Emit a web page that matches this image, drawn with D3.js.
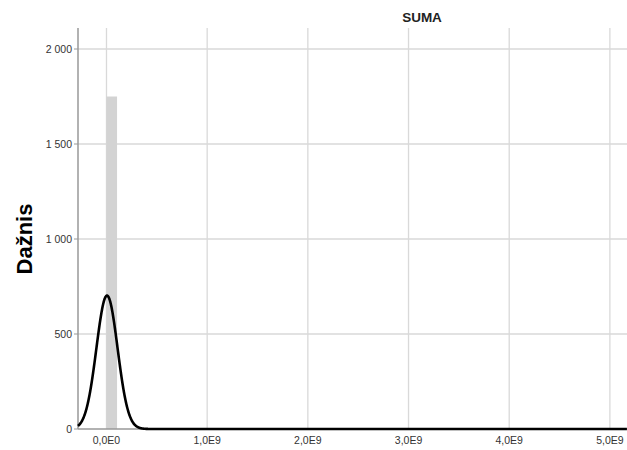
<!DOCTYPE html>
<html>
<head>
<meta charset="utf-8">
<script src="https://cdn.jsdelivr.net/npm/d3@7"></script>
<style>
  body { margin: 0; background: #fff; }
  text { font-family: "Liberation Sans", Arial, sans-serif; }
</style>
</head>
<body>
<svg id="chart" width="627" height="450"></svg>
<script>
// histogram bins (start, end) and counts
var binStarts = [0];
var binEnds = [1.05e8];
var binCounts = [1750];

// fitted normal curve parameters
var curveMean = 5e6;
var curveSd = 1.05e8;
var curveN = 1760;
var binWidth = 1.05e8;

var xTicks = [0, 1e9, 2e9, 3e9, 4e9, 5e9];
var xTickLabels = ["0,0E0", "1,0E9", "2,0E9", "3,0E9", "4,0E9", "5,0E9"];
var yTicks = [0, 500, 1000, 1500, 2000];
var yTickLabels = ["0", "500", "1 000", "1 500", "2 000"];

var svg = d3.select("#chart");

// plot box (avoid "top" which is a window property)
var plotL = 78, plotR = 627, plotT = 28, plotB = 429;

var x = d3.scaleLinear().domain([-0.283e9, 5.17e9]).range([plotL, plotR]);
var y = d3.scaleLinear().domain([0, 2000]).range([plotB, 49]);
// extend y to top of plot
y.domain([0, y.invert(plotT)]).range([plotB, plotT]);

// grid lines
svg.append("g").selectAll("line").data(yTicks.filter(function(d){ return d > 0; }))
  .enter().append("line")
    .attr("x1", plotL).attr("x2", plotR)
    .attr("y1", function(d){ return y(d); }).attr("y2", function(d){ return y(d); })
    .attr("stroke", "#d9d9d9").attr("stroke-width", 1.3);

svg.append("g").selectAll("line").data(xTicks)
  .enter().append("line")
    .attr("x1", function(d){ return x(d); }).attr("x2", function(d){ return x(d); })
    .attr("y1", plotT).attr("y2", plotB)
    .attr("stroke", "#d9d9d9").attr("stroke-width", 1.3);

// bars
svg.append("g").selectAll("rect").data(binCounts)
  .enter().append("rect")
    .attr("x", function(d, i){ return x(binStarts[i]); })
    .attr("width", function(d, i){ return x(binEnds[i]) - x(binStarts[i]); })
    .attr("y", function(d){ return y(d); })
    .attr("height", function(d){ return plotB - y(d); })
    .attr("fill", "#d3d3d3");

// axes lines
svg.append("line").attr("x1", plotL).attr("x2", plotR).attr("y1", plotB).attr("y2", plotB)
  .attr("stroke", "#999").attr("stroke-width", 1.5);
svg.append("line").attr("x1", plotL).attr("x2", plotL).attr("y1", plotT).attr("y2", plotB)
  .attr("stroke", "#999").attr("stroke-width", 1.5);

// y ticks
var yAxis = svg.append("g");
yAxis.selectAll("line").data(yTicks).enter().append("line")
  .attr("x1", plotL - 4).attr("x2", plotL)
  .attr("y1", function(d){ return y(d); }).attr("y2", function(d){ return y(d); })
  .attr("stroke", "#999").attr("stroke-width", 1);
yAxis.selectAll("text").data(yTicks).enter().append("text")
  .attr("x", plotL - 6)
  .attr("y", function(d){ return y(d); })
  .attr("dy", "0.35em")
  .attr("text-anchor", "end")
  .attr("font-size", 10.5)
  .attr("fill", "#333")
  .text(function(d, i){ return yTickLabels[i]; });

// x ticks
svg.append("g").selectAll("text").data(xTicks).enter().append("text")
  .attr("x", function(d){ return x(d); })
  .attr("y", plotB + 15)
  .attr("text-anchor", "middle")
  .attr("font-size", 10.5)
  .attr("fill", "#333")
  .text(function(d, i){ return xTickLabels[i]; });

// normal curve
var xs = d3.range(x.domain()[0], x.domain()[1], 2e6);
var norm = function(v){
  var z = (v - curveMean) / curveSd;
  return curveN * binWidth / (curveSd * Math.sqrt(2 * Math.PI)) * Math.exp(-0.5 * z * z);
};
var line = d3.line()
  .x(function(d){ return x(d); })
  .y(function(d){ return y(norm(d)); })
  .curve(d3.curveBasis);
svg.append("path").datum(xs)
  .attr("d", line)
  .attr("fill", "none")
  .attr("stroke", "#000")
  .attr("stroke-width", 2.6);

// title
svg.append("text")
  .attr("x", 422).attr("y", 22)
  .attr("text-anchor", "middle")
  .attr("font-size", 13.5)
  .attr("font-weight", "bold")
  .attr("fill", "#222")
  .text("SUMA");

// y label
svg.append("text")
  .attr("transform", "translate(32,239) rotate(-90)")
  .attr("text-anchor", "middle")
  .attr("font-family", "'Open Sans', sans-serif")
  .attr("font-size", 22)
  .attr("font-weight", "bold")
  .attr("fill", "#000")
  .text("Dažnis");
</script>
</body>
</html>
